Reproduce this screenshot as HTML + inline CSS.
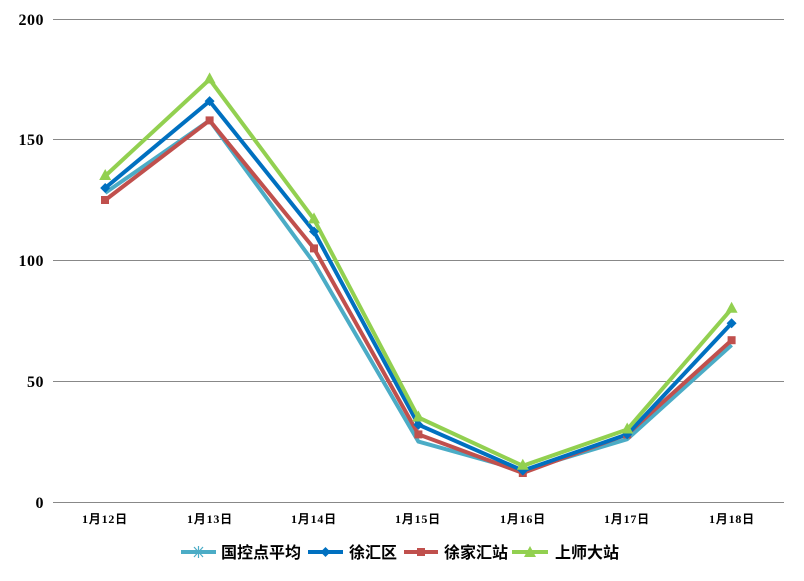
<!DOCTYPE html>
<html><head><meta charset="utf-8"><style>
html,body{margin:0;padding:0;background:#fff;}
svg{display:block;}
.ax{font-family:"Liberation Serif",serif;font-weight:bold;font-size:16px;fill:#000;letter-spacing:0.5px;}
.xl{font-family:"Liberation Serif","Noto Sans CJK SC",serif;font-weight:bold;font-size:12px;fill:#000;letter-spacing:0.8px;}
.lg{font-family:"Liberation Sans","Noto Sans CJK SC",sans-serif;font-weight:bold;font-size:16px;fill:#000;}
</style></head><body>
<svg width="804" height="581" viewBox="0 0 804 581" xmlns="http://www.w3.org/2000/svg">
<g stroke="#888" stroke-width="1">
<line x1="53" y1="19.5" x2="784" y2="19.5"/>
<line x1="53" y1="139.5" x2="784" y2="139.5"/>
<line x1="53" y1="260.5" x2="784" y2="260.5"/>
<line x1="53" y1="381.5" x2="784" y2="381.5"/>
<line x1="53" y1="502.5" x2="784" y2="502.5"/>
</g>
<g class="ax" text-anchor="end">
<text x="44" y="25">200</text><text x="44" y="145">150</text><text x="44" y="266">100</text><text x="44" y="387">50</text><text x="44" y="508">0</text>
</g>
<g class="xl" text-anchor="middle">
<text x="105" y="523">1月12日</text><text x="210" y="523">1月13日</text><text x="314" y="523">1月14日</text><text x="418" y="523">1月15日</text><text x="523" y="523">1月16日</text><text x="627" y="523">1月17日</text><text x="732" y="523">1月18日</text>
</g>
<g fill="none" stroke-width="4" stroke-linejoin="round">
<polyline stroke="#4bacc6" points="105.2,192.9 209.6,120.4 314,262.9 418.4,441.6 522.8,470.6 627.2,439.2 731.6,345"/>
<polyline stroke="#c0504d" points="105.2,200.1 209.6,120.4 314,248.4 418.4,434.4 522.8,473 627.2,434.4 731.6,340.2"/>
<polyline stroke="#0070c0" points="105.2,188 209.6,101.1 314,231.5 418.4,424.7 522.8,470.6 627.2,434.4 731.6,323.3"/>
<polyline stroke="#92d050" points="105.2,176 209.6,79.4 314,219.4 418.4,417.5 522.8,465.8 627.2,429.5 731.6,308.8"/>
</g>
<g fill="#c0504d">
<rect x="101" y="196" width="8" height="8"/><rect x="205.6" y="116.4" width="8" height="8"/><rect x="310" y="244.4" width="8" height="8"/><rect x="414.4" y="430.4" width="8" height="8"/><rect x="518.8" y="469" width="8" height="8"/><rect x="623.2" y="430.4" width="8" height="8"/><rect x="727.6" y="336.2" width="8" height="8"/>
</g>
<g fill="#0070c0">
<polygon points="105.2,183 110.2,188 105.2,193 100.2,188"/><polygon points="209.6,96.1 214.6,101.1 209.6,106.1 204.6,101.1"/><polygon points="314,226.5 319,231.5 314,236.5 309,231.5"/><polygon points="418.4,419.7 423.4,424.7 418.4,429.7 413.4,424.7"/><polygon points="522.8,465.6 527.8,470.6 522.8,475.6 517.8,470.6"/><polygon points="627.2,429.4 632.2,434.4 627.2,439.4 622.2,434.4"/><polygon points="731.6,318.3 736.6,323.3 731.6,328.3 726.6,323.3"/>
</g>
<g fill="#92d050">
<polygon points="105.2,169 111.2,180 99.2,180"/><polygon points="209.6,72.4 215.6,83.4 203.6,83.4"/><polygon points="314,212.4 320,223.4 308,223.4"/><polygon points="418.4,410.5 424.4,421.5 412.4,421.5"/><polygon points="522.8,458.8 528.8,469.8 516.8,469.8"/><polygon points="627.2,422.5 633.2,433.5 621.2,433.5"/><polygon points="731.6,301.8 737.6,312.8 725.6,312.8"/>
</g>
<g stroke-width="4">
<line x1="181" y1="552" x2="216" y2="552" stroke="#4bacc6"/>
<line x1="308" y1="552" x2="343" y2="552" stroke="#0070c0"/>
<line x1="404" y1="552" x2="438" y2="552" stroke="#c0504d"/>
<line x1="512" y1="552" x2="548" y2="552" stroke="#92d050"/>
</g>
<g stroke="#4bacc6" stroke-width="1.2"><line x1="194" y1="547" x2="203" y2="557"/><line x1="203" y1="547" x2="194" y2="557"/><line x1="198.5" y1="546" x2="198.5" y2="558"/></g>
<polygon points="325.5,547 330.5,552 325.5,557 320.5,552" fill="#0070c0"/>
<rect x="417" y="548" width="8" height="8" fill="#c0504d"/>
<polygon points="530,546 536,557 524,557" fill="#92d050"/>
<g class="lg">
<text x="221" y="558">国控点平均</text><text x="349" y="558">徐汇区</text><text x="444" y="558">徐家汇站</text><text x="555" y="558">上师大站</text>
</g>
</svg>
</body></html>
